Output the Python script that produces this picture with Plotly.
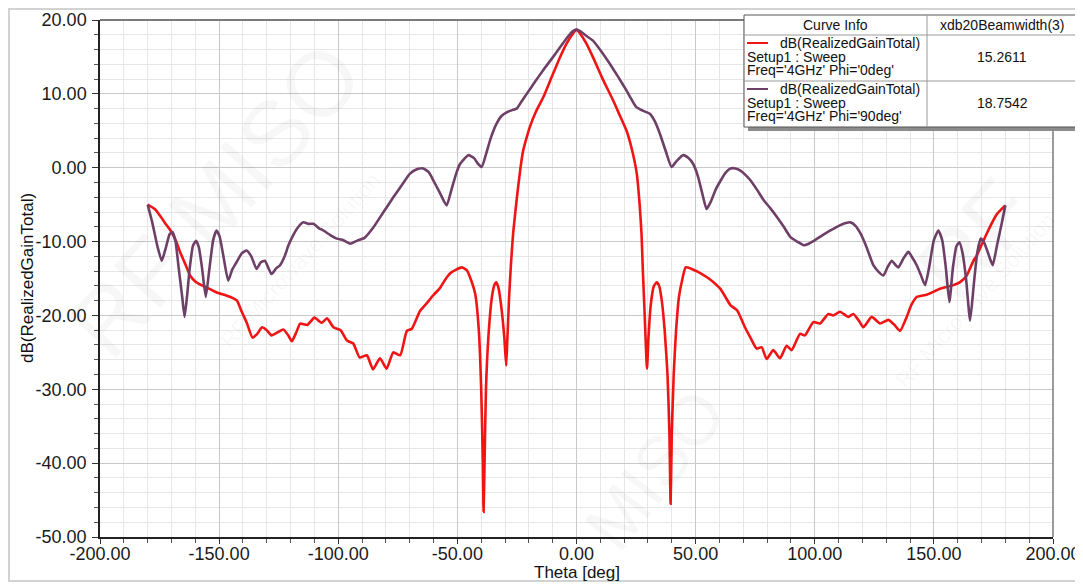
import plotly.graph_objects as go

# ---------------- data ----------------
theta_phi0 = [
    -180, -177, -174.8, -172, -170, -168, -166.4, -164, -162.2, -160, -157.4, -154, -151, -147, -144,
    -142.5, -140.5, -138.4, -136, -134, -132, -130, -128, -125.5, -123, -121, -119.5, -117.5, -116,
    -113, -110, -107, -104.7, -102, -99, -96.3, -93.7, -91, -88, -85.4, -82.5, -79.7, -76.9, -74,
    -71.2, -69.1, -65.7, -63, -60.2, -57.3, -55.2, -53, -50.5, -48.1, -46, -44.5, -42.5, -41, -40,
    -39.3, -39.0, -38.6, -38, -37, -35.5, -34.5, -33.7, -32.8, -31.5, -30.3, -29.5, -29.0, -28.3,
    -27.5, -26.6, -25.0, -23.5, -22.4, -21, -19.6, -17, -14, -10.5, -7, -4, -1.4, 0,
    1.4, 4, 7, 11, 15.4, 18, 21, 23, 25.3, 26.5, 27.3, 27.8, 28.5, 29.6, 30.2, 31.2, 32.5, 33.7,
    34.7, 35.8, 37, 38.2, 39, 39.5, 40, 40.8, 41.8, 43, 44.5, 45.8, 48.3, 51, 54.6, 57.5, 60.4,
    62.5, 64.6, 67.4, 70.7, 73, 75.6, 77.7, 79.8, 82.6, 85.4, 88.2, 90.3, 93.8, 95.9, 99.4, 102.2,
    105.7, 107.8, 110.6, 114.1, 116.2, 118.5, 120.4, 123.9, 127.4, 130.9, 133.5, 135.8, 138.6,
    140.5, 142.8, 147, 152.6, 158.2, 161, 163.8, 166.6, 168, 172.2, 176.4, 180,
]
gain_phi0 = [
    -5.0, -5.6, -6.5, -7.8, -8.7, -10.0, -11.4, -13.2, -14.6, -15.4, -15.9, -16.4, -16.9, -17.3, -17.7,
    -18.0, -19.5, -21.0, -23.0, -22.5, -21.6, -22.0, -22.7, -22.3, -21.9, -22.7, -23.5, -22.2, -21.1,
    -21.3, -20.3, -21.0, -20.4, -21.6, -22.0, -23.4, -23.8, -25.7, -25.4, -27.3, -25.8, -27.2, -25.0, -25.4,
    -22.1, -21.8, -19.4, -18.4, -17.3, -16.3, -15.2, -14.3, -13.8, -13.5, -13.9, -15.0, -17.1, -22, -30,
    -40, -46.6, -40, -30, -23, -17.5, -15.9, -15.5, -16.2, -19, -23, -26.8, -23, -17.6,
    -13, -8.9, -4.0, 0.0, 2.3, 4.0, 5.5, 7.6, 9.5, 12.2, 14.9, 16.9, 18.2, 18.7,
    18.2, 16.9, 14.9, 12.0, 9.1, 7.2, 5.0, 2.8, -0.8, -5, -9, -13.5, -19, -27.2, -23, -18.5, -16, -15.5,
    -16, -18, -22, -28, -36, -45.5, -36, -28, -22, -17.5, -15, -13.5, -13.7, -14.1, -14.8, -15.5, -16.4,
    -17.5, -18.6, -19.3, -21.6, -23.0, -24.5, -24.3, -25.9, -24.7, -25.8, -24.1, -24.7, -22.5, -22.7, -20.9, -21.1,
    -19.8, -20.0, -19.5, -20.2, -19.8, -20.7, -21.6, -20.2, -21.1, -20.6, -21.3, -22.1, -20.2,
    -18.6, -17.5, -17.2, -16.4, -15.9, -15.5, -14.6, -12.6, -11.9, -8.9, -6.3, -5.1,
]

theta_phi90 = [
    -180, -178, -176, -174.1, -172.5, -170.8, -169.6, -168.3, -167, -165.5, -164.5, -163.5, -162.3,
    -161, -159.7, -158.5, -157.2, -155.6, -154.2, -152.5, -151.1, -149.8, -148.2, -146.2, -144.5,
    -142.7, -140.5, -138.5, -136.5, -134.3, -132.5, -130.8, -128, -126, -124.4, -122.5, -120.9, -119,
    -117.4, -114.7, -112.5, -110.4, -108, -106.2, -103, -100.6, -98, -95, -92.2, -89, -85.3, -81,
    -76.9, -73, -69.9, -67, -64.3, -62, -60.1, -57.5, -54.5, -52.5, -50.5, -48.9, -45.4, -43, -41.5,
    -39.8, -38, -36, -33.5, -31.5, -29.3, -27, -25.1, -23, -20.9, -17.5, -14, -10.5, -6.9, -3.5, -1.5, 0,
    1.5, 3.5, 6.9, 10.5, 13.9, 17.5, 20.9, 23, 25.1, 28, 30.8, 33, 35, 37.5, 39.9, 42, 44.8, 47, 49,
    51, 52.8, 54.6, 56.5, 58.5, 60.4, 62.5, 64.6, 66.8, 68.8, 71, 73, 75.8, 78.6, 81.4, 84.2, 87, 89.8,
    92.6, 95.4, 97.5, 99.6, 103, 106.6, 110.5, 113, 115, 117.2, 119.2, 121.8, 124.6, 126.8, 128.8,
    130.5, 132.3, 134, 135.1, 137.2, 139.3, 141, 142.8, 144.5, 146.3, 148, 150, 151.9, 153.5, 155,
    156.5, 158, 159.5, 160.7, 162, 163.5, 165.2, 166.7, 168.2, 169.7, 171.2, 173, 174.7, 176.5, 178.5, 180,
]
gain_phi90 = [
    -5.0, -7.5, -10.5, -12.6, -11.0, -9.0, -8.7, -10, -13.5, -17.5, -20.2, -17.5, -13.5,
    -10.6, -9.9, -10.8, -13.5, -17.5, -14.0, -9.8, -8.5, -9.3, -12, -15.3, -13.8,
    -12.8, -11.6, -11.2, -12.0, -13.7, -12.8, -12.6, -14.4, -13.6, -13.2, -12.0, -10.5, -9.2,
    -8.3, -7.4, -7.6, -7.6, -8.2, -8.5, -9.2, -9.6, -9.8, -10.3, -9.9, -9.5, -8.1, -6.0,
    -4.0, -2.2, -0.8, -0.2, -0.1, -0.6, -1.7, -3.3, -5.1, -3, -0.8, 0.5, 1.7, 1.3, 0.6,
    0.1, 1.8, 4.0, 6.0, 7.0, 7.5, 7.8, 8.0, 9.0, 10.0, 11.6, 13.2, 14.7, 16.3, 17.8, 18.5, 18.7,
    18.5, 18.0, 17.2, 15.7, 14.1, 12.3, 10.5, 9.3, 8.2, 7.7, 7.3, 6.2, 4.6, 2.2, 0.1, 0.9, 1.7, 1.3, 0.5,
    -1.2, -3.5, -5.6, -4.5, -2.9, -1.8, -0.7, -0.1, -0.1, -0.4, -1.0, -1.7, -3.0, -4.4, -5.5, -6.7, -8.0, -9.4,
    -10.0, -10.5, -10.3, -9.9, -9.2, -8.5, -7.8, -7.5, -7.4, -7.9, -8.9, -10.8, -13.2, -14.1, -14.6,
    -13.5, -12.6, -13.2, -13.5, -12.3, -11.4, -12.2, -13.2, -14.5, -15.9, -13.5, -9.8, -8.5, -9.8, -13.5,
    -18.2, -13.5, -10.6, -10.1, -11.5, -15, -20.7, -16, -11.5, -9.6, -10.2, -11.8, -13.2, -10.5, -7.5, -5.1,
]

x_tick_values = [-200, -150, -100, -50, 0, 50, 100, 150, 200]
x_tick_labels = ["-200.00", "-150.00", "-100.00", "-50.00", "0.00", "50.00", "100.00", "150.00", "200.00"]
y_tick_values = [-50, -40, -30, -20, -10, 0, 10, 20]
y_tick_labels = ["-50.00", "-40.00", "-30.00", "-20.00", "-10.00", "0.00", "10.00", "20.00"]

curve_names = ["dB(RealizedGainTotal)", "dB(RealizedGainTotal)"]
curve_setup = ["Setup1 : Sweep", "Setup1 : Sweep"]
curve_freq = ["Freq='4GHz' Phi='0deg'", "Freq='4GHz' Phi='90deg'"]
beamwidth_values = ["15.2611", "18.7542"]
table_headers = ["Curve Info", "xdb20Beamwidth(3)"]
x_title = "Theta [deg]"
y_title = "dB(RealizedGainTotal)"

# ---------------- style / layout ----------------
OFF = 8  # page (body) margin of the html page
W, H = 1083 - OFF, 584 - OFF
ML, MR, MT, MB = 100 - OFF, 30, 12, 47
PW, PH = W - ML - MR, H - MT - MB
RED = "#f01414"
PURPLE = "#6e4068"
FONT = "Liberation Sans, Arial, sans-serif"


def px(xp):
    """page pixel x -> paper coordinate"""
    return (xp - OFF - ML) / PW


def py(yp):
    """page pixel y -> paper coordinate"""
    return (H - MB - (yp - OFF)) / PH


def note(text, x, y, size=14, xanchor="center", angle=0, color="#111"):
    return dict(text=text, xref="paper", yref="paper", x=px(x), y=py(y),
                xanchor=xanchor, yanchor="middle", showarrow=False, textangle=angle,
                borderpad=0, font=dict(family=FONT, size=size, color=color))


fig = go.Figure()
fig.add_trace(go.Scatter(x=theta_phi0, y=gain_phi0, mode="lines",
                         line=dict(color=RED, width=2.6, shape="spline", smoothing=0.5),
                         showlegend=False))
fig.add_trace(go.Scatter(x=theta_phi90, y=gain_phi90, mode="lines",
                         line=dict(color=PURPLE, width=2.6, shape="spline", smoothing=0.5),
                         showlegend=False))

shapes = []
annotations = []

# outer frame of the picture
shapes.append(dict(type="rect", xref="paper", yref="paper",
                   x0=px(9), x1=px(1079), y0=py(581), y1=py(9),
                   line=dict(color="#d2d2d2", width=2), layer="below"))
# plot frame top/right (grey)
shapes.append(dict(type="line", xref="paper", yref="paper", x0=0, x1=1, y0=1, y1=1,
                   line=dict(color="#7a7a7a", width=2)))
shapes.append(dict(type="line", xref="paper", yref="paper", x0=1, x1=1, y0=0, y1=1,
                   line=dict(color="#7a7a7a", width=1.5)))

# faint watermarks
for txt, xx, yy, size, ang in [("RF MISO", 215, 200, 92, -48), ("MISO", 655, 470, 70, -52),
                               ("RF", 975, 240, 92, -48)]:
    annotations.append(note(txt, xx, yy, size=size, angle=ang, color="rgba(0,0,0,0.03)"))
for txt, xx, yy, ang in [("RF Microwave Solution", 300, 260, -48),
                         ("RF Microwave Solution", 975, 300, -48)]:
    annotations.append(note(txt, xx, yy, size=22, angle=ang, color="rgba(0,0,0,0.035)"))

# curve info table
bx0, bx1, by0, by1 = 744, 1077, 15, 127
colx = 927
row_y = [35, 81]
shapes.append(dict(type="rect", xref="paper", yref="paper",
                   x0=px(bx0 + 4), x1=px(bx1 + 4), y0=py(by1 + 4), y1=py(by0 + 4),
                   fillcolor="#8c8c8c", line=dict(width=0)))
shapes.append(dict(type="rect", xref="paper", yref="paper",
                   x0=px(bx0), x1=px(bx1), y0=py(by1), y1=py(by0),
                   fillcolor="white", line=dict(color="#555555", width=1)))
shapes.append(dict(type="line", xref="paper", yref="paper",
                   x0=px(colx), x1=px(colx), y0=py(by1), y1=py(by0),
                   line=dict(color="#9a9a9a", width=1)))
for ry in row_y:
    shapes.append(dict(type="line", xref="paper", yref="paper",
                       x0=px(bx0), x1=px(bx1), y0=py(ry), y1=py(ry),
                       line=dict(color="#9a9a9a", width=1)))

TFS = 14
annotations.append(note(table_headers[0], (bx0 + colx) / 2, 25, TFS))
annotations.append(note(table_headers[1], (colx + bx1) / 2, 25, TFS))

for i, col in enumerate([RED, PURPLE]):
    top = row_y[i]
    shapes.append(dict(type="line", xref="paper", yref="paper",
                       x0=px(747), x1=px(768), y0=py(top + 8), y1=py(top + 8),
                       line=dict(color=col, width=2)))
    annotations.append(note(curve_names[i], 779, top + 8, TFS, xanchor="left"))
    annotations.append(note(curve_setup[i], 746, top + 22, TFS, xanchor="left"))
    annotations.append(note(curve_freq[i], 746, top + 35, TFS, xanchor="left"))
    annotations.append(note(beamwidth_values[i], (colx + bx1) / 2, top + 22, TFS))

# axis titles
annotations.append(note(x_title, 577, 572, 17))
annotations.append(note(y_title, 27, 278, 17, angle=-90))

fig.update_layout(
    width=W, height=H,
    margin=dict(l=ML, r=MR, t=MT, b=MB, autoexpand=False),
    paper_bgcolor="white", plot_bgcolor="white",
    font=dict(family=FONT, size=18, color="#1a1a1a"),
    shapes=shapes, annotations=annotations,
    showlegend=False,
)
fig.update_xaxes(
    range=[-200, 200], tickmode="array", tickvals=x_tick_values, ticktext=x_tick_labels,
    showgrid=True, gridcolor="#c9c9c9", gridwidth=1,
    showline=True, linecolor="#222", linewidth=1.5,
    ticks="outside", ticklen=5, tickcolor="#333", ticklabelstandoff=-5,
    minor=dict(dtick=10, tick0=0, showgrid=True, gridcolor="#e6e6e6", ticks="outside", ticklen=4,
               tickcolor="#555"),
    zeroline=False, tickfont=dict(size=18, color="#1a1a1a"), automargin=False,
)
fig.update_yaxes(
    range=[-50, 20], tickmode="array", tickvals=y_tick_values, ticktext=y_tick_labels,
    showgrid=True, gridcolor="#c9c9c9", gridwidth=1,
    showline=True, linecolor="#222", linewidth=1.5,
    ticks="outside", ticklen=6, tickcolor="#333", ticklabelstandoff=2,
    minor=dict(dtick=2, tick0=0, showgrid=True, gridcolor="#e6e6e6", ticks="outside", ticklen=4,
               tickcolor="#555"),
    zeroline=False, tickfont=dict(size=18, color="#1a1a1a"), automargin=False,
)

fig.write_html("out.html")
